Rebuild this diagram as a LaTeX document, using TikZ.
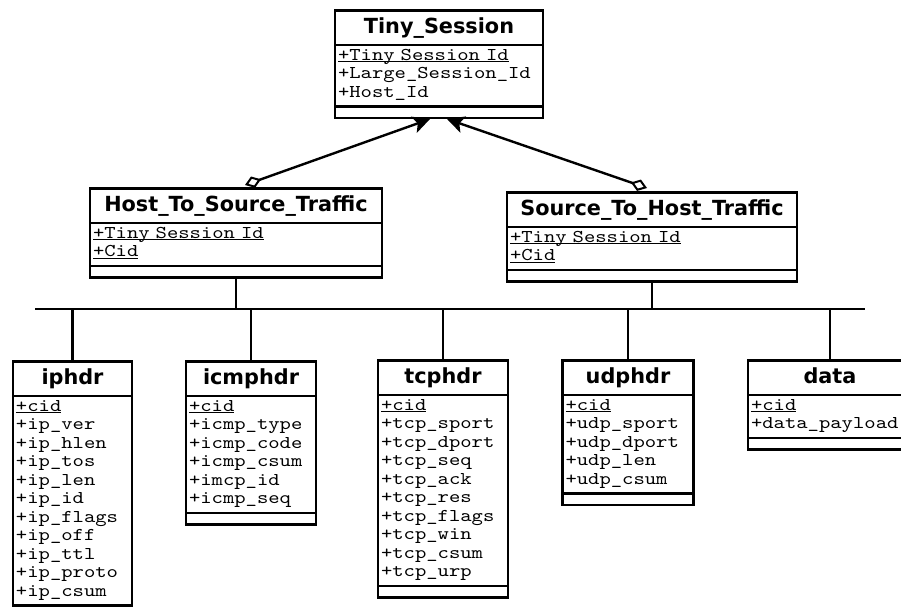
\documentclass[tikz,border=0pt]{standalone}
\usepackage{fontspec}
\usepackage{tikz}
\usetikzlibrary{arrows.meta,calc,shapes.multipart}

\newfontfamily\namefam{DejaVu Sans}
\newfontfamily\monofam{lmmono10-regular.otf}[FakeStretch=1.2]
\newcommand{\attrfont}{\monofam\fontsize{18}{18.5}\selectfont}
\newcommand{\namefont}{\namefam\bfseries\fontsize{20.8}{24}\selectfont}

% class name, attribute struts, static (underlined) attributes
\newcommand{\classname}[1]{\noindent\rule[-10pt]{0pt}{32pt}{\namefont\centering #1\par}}
\newcommand{\topstrut}{\rule{0pt}{14pt}}
\newcommand{\botstrut}{\rule[-8pt]{0pt}{8pt}}
\newcommand{\static}[1]{\underline{\smash{#1}}}
\newcommand{\nooper}{\rule{0pt}{9pt}}

\begin{document}
\begin{tikzpicture}[
    x=1pt, y=-1pt,
    umlclass/.style={rectangle split, rectangle split parts=3, draw, line width=2.5pt,
        fill=white, anchor=north, inner xsep=3pt, inner ysep=0pt, align=left, font=\attrfont},
    link/.style={line width=2.4pt},
    agg/.style={line width=2.4pt,
        {Diamond[fill=white, length=17pt, width=12pt, line width=2pt]}-{Stealth[length=17pt, width=17pt, inset=4pt]}},
]
    \useasboundingbox (0,0) rectangle (901,606);

    \node[umlclass, text width=202pt] (tiny) at (439,9) {\classname{Tiny\_Session}
        \nodepart{two}\topstrut\static{+Tiny Session Id}\\+Large\_Session\_Id\\+Host\_Id\botstrut
        \nodepart{three}\nooper};

    \node[umlclass, text width=286pt] (h2s) at (236,187) {\classname{Host\_To\_Source\_Traffic}
        \nodepart{two}\topstrut\static{+Tiny Session Id}\\\static{+Cid}\botstrut
        \nodepart{three}\nooper};
    \node[umlclass, text width=284pt] (s2h) at (652,191) {\classname{Source\_To\_Host\_Traffic}
        \nodepart{two}\topstrut\static{+Tiny Session Id}\\\static{+Cid}\botstrut
        \nodepart{three}\nooper};

    \node[umlclass, text width=113pt] (iphdr) at (72.5,360) {\classname{iphdr}
        \nodepart{two}\topstrut\static{+cid}\\+ip\_ver\\+ip\_hlen\\+ip\_tos\\+ip\_len\\+ip\_id\\
        +ip\_flags\\+ip\_off\\+ip\_ttl\\+ip\_proto\\+ip\_csum\botstrut
        \nodepart{three}\nooper};
    \node[umlclass, text width=124pt] (icmphdr) at (251,360) {\classname{icmphdr}
        \nodepart{two}\topstrut\static{+cid}\\+icmp\_type\\+icmp\_code\\+icmp\_csum\\+imcp\_id\\
        +icmp\_seq\botstrut
        \nodepart{three}\nooper};
    \node[umlclass, text width=124pt] (tcphdr) at (443,359) {\classname{tcphdr}
        \nodepart{two}\topstrut\static{+cid}\\+tcp\_sport\\+tcp\_dport\\+tcp\_seq\\+tcp\_ack\\
        +tcp\_res\\+tcp\_flags\\+tcp\_win\\+tcp\_csum\\+tcp\_urp\botstrut
        \nodepart{three}\nooper};
    \node[umlclass, text width=125pt] (udphdr) at (628,359) {\classname{udphdr}
        \nodepart{two}\topstrut\static{+cid}\\+udp\_sport\\+udp\_dport\\+udp\_len\\+udp\_csum\botstrut
        \nodepart{three}\nooper};
    \node[umlclass, text width=158pt] (data) at (830,359) {\classname{data}
        \nodepart{two}\topstrut\static{+cid}\\+data\_payload\botstrut
        \nodepart{three}\nooper};

    % aggregations up to the session
    \draw[agg] ($(h2s.north)+(9,-2)$) -- ($(tiny.south)+(-9,0)$);
    \draw[agg] ($(s2h.north)+(-5,-3)$) -- ($(tiny.south)+(8,0)$);

    % shared bus down to the headers
    \coordinate (busL) at (35,309);
    \coordinate (busR) at (865,309);
    \draw[link] (busL) -- (busR);
    \draw[link] (h2s.south) -- (h2s.south |- busL);
    \draw[link] (s2h.south) -- (s2h.south |- busL);
    \foreach \c in {iphdr,icmphdr,tcphdr,udphdr,data}
        \draw[link] (\c.north) -- (\c.north |- busL);
\end{tikzpicture}
\end{document}
